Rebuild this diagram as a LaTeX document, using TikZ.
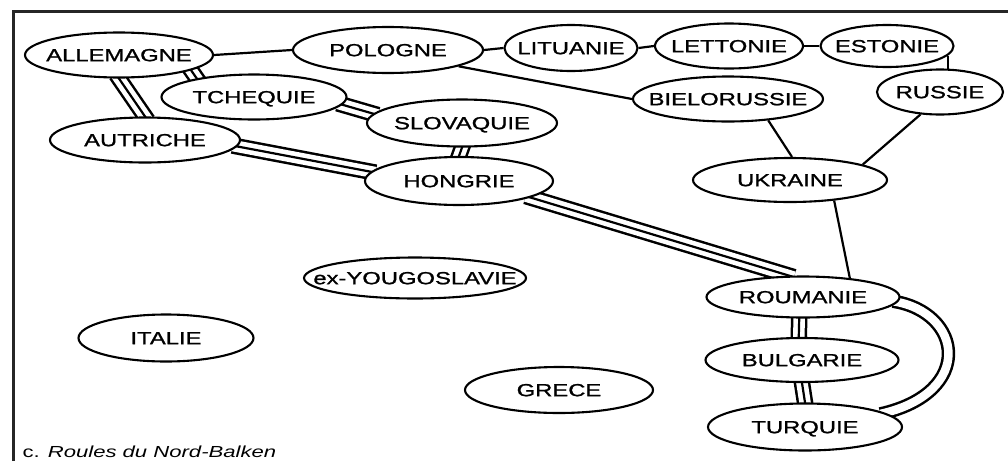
\documentclass[tikz,border=0pt]{standalone}
\usepackage{fontspec}
\setmainfont[FakeStretch=1.38]{Liberation Sans}
\newfontfamily\paysfont[FakeStretch=1.36, FakeBold=1.2]{Liberation Sans}
\usetikzlibrary{shapes.geometric}

\pgfdeclarelayer{bg}
\pgfsetlayers{bg,main}

% country name, centred on the node, without widening the ellipse
\newcommand{\nom}[1]{\makebox[0pt]{\smash{\raisebox{-6.2pt}{#1}}}}

\tikzset{
  pays/.style={shape=ellipse, draw=black, fill=white, line width=2.1pt,
    inner sep=0pt, minimum width=190pt, minimum height=45pt,
    font=\paysfont\fontsize{17.5pt}{20pt}\selectfont},
  route1/.style={line width=2.2pt},
  route2/.style={draw=white, line width=8.5pt,
    preaction={draw=black, line width=13.5pt},
    shorten <=-5pt, shorten >=-5pt},
  route3/.style={draw=white, line width=11.5pt,
    preaction={draw=black, line width=16.5pt},
    postaction={draw=black, line width=2.2pt},
    shorten <=-5pt, shorten >=-5pt}
}

\begin{document}
\begin{tikzpicture}[x=1pt, y=1pt]
    \useasboundingbox (0,0) rectangle (1008,-461);
    \draw[line width=3pt, black!85] (13,-461) -- (13,-11) -- (1008,-11);

    \node[pays, minimum width=188pt] (allemagne) at (119,-55) {\nom{ALLEMAGNE}};
    \node[pays, minimum height=46pt] (pologne) at (388,-50) {\nom{POLOGNE}};
    \node[pays, minimum width=133pt, minimum height=46pt] (lituanie) at (571,-48) {\nom{LITUANIE}};
    \node[pays, minimum width=148pt] (lettonie) at (729,-46) {\nom{LETTONIE}};
    \node[pays, minimum width=133pt, minimum height=42pt] (estonie) at (887,-46) {\nom{ESTONIE}};
    \node[pays, minimum width=126pt] (russie) at (940,-92) {\nom{RUSSIE}};
    \node[pays, minimum width=185pt] (tchequie) at (254,-97) {\nom{TCHEQUIE}};
    \node[pays] (autriche) at (145,-140) {\nom{AUTRICHE}};
    \node[pays, minimum height=47pt] (slovaquie) at (462,-123) {\nom{SLOVAQUIE}};
    \node[pays, minimum width=188pt, minimum height=48pt] (hongrie) at (459,-181) {\nom{HONGRIE}};
    \node[pays] (bielorussie) at (728,-99) {\nom{BIELORUSSIE}};
    \node[pays, minimum width=194pt, minimum height=44pt] (ukraine) at (790,-180) {\nom{UKRAINE}};
    \node[pays, minimum width=193pt, minimum height=41pt] (roumanie) at (803,-297) {\nom{ROUMANIE}};
    \node[pays, minimum width=193pt, minimum height=44pt] (bulgarie) at (802,-360) {\nom{BULGARIE}};
    \node[pays, minimum width=194pt, minimum height=47pt] (turquie) at (805,-427) {\nom{TURQUIE}};
    \node[pays, minimum width=222pt, minimum height=41pt] (yougoslavie) at (415,-278) {\nom{ex-YOUGOSLAVIE}};
    \node[pays, minimum width=175pt, minimum height=47pt] (italie) at (166,-338) {\nom{ITALIE}};
    \node[pays, minimum width=188pt, minimum height=46pt] (grece) at (559,-390) {\nom{GRECE}};

    \node[anchor=base west, font=\fontsize{16pt}{18pt}\selectfont] (legende) at (19,-457) {c. \textit{Roules du Nord-Balken}};

    \begin{pgfonlayer}{bg}
    % simple roads
    \draw[route1] (allemagne.east) -- (pologne.west);
    \draw[route1] (pologne.east) -- (lituanie.west);
    \draw[route1] (lituanie.east) -- (lettonie.west);
    \draw[route1] (lettonie.east) -- (estonie.west);
    \draw[route1] (estonie.-9) -- (estonie.-9 |- russie.center);
    \draw[route1] (pologne.-13) -- (bielorussie.west);
    \draw[route1] (bielorussie.-28) -- (ukraine.85);
    \draw[route1] (russie.-131) -- (ukraine.12);
    \draw[route1] (ukraine.-25) -- (roumanie.22);
    % big roads
    \draw[route3] (allemagne.south) -- (autriche.north);
    \draw[route3] (allemagne.-12) -- (tchequie.162);
    \draw[route3] (tchequie.-5) -- (slovaquie.174);
    \draw[route3] (autriche.-4) -- (hongrie.174);
    \draw[route3] (slovaquie.south) -- (hongrie.north);
    \draw[route3] (hongrie.-13) -- (roumanie.123);
    \draw[route3] (roumanie.-100) -- (bulgarie.98);
    \draw[route3] (bulgarie.south) -- (turquie.north);
    \draw[route2] (roumanie.-3) .. controls +(65,-10) and +(90,20) .. (turquie.10);
    \end{pgfonlayer}
\end{tikzpicture}
\end{document}
